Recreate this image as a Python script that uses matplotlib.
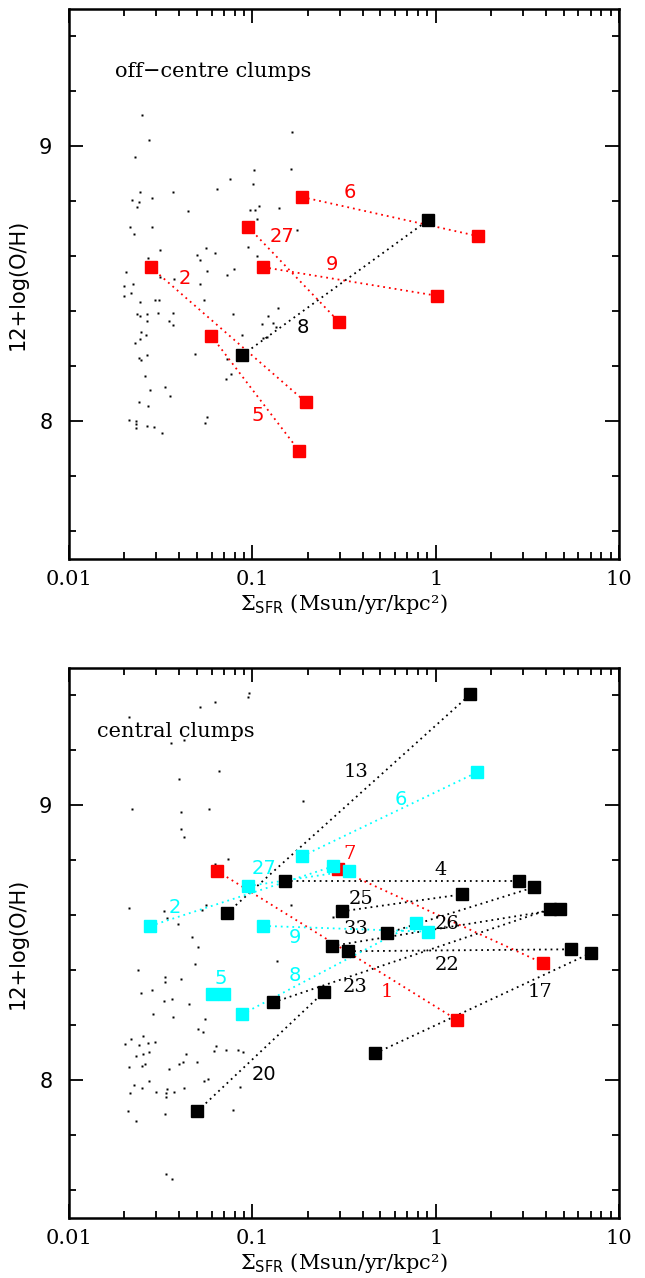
import numpy as np
import matplotlib
matplotlib.use("Agg")
import matplotlib.pyplot as plt
from matplotlib.ticker import LogLocator, NullFormatter, MultipleLocator

plt.rcParams['mathtext.fontset'] = 'dejavuserif'

RED = '#ff0000'
CYAN = '#00ffff'
BLACK = '#000000'

# ---------------- off-centre clumps (top panel) ----------------
top_names = ['6', '27', '9', '2', '5', '8']
top_sfr1 = [0.187, 0.095, 0.115, 0.0279, 0.0596, 0.088]
top_oh1 = [8.816, 8.707, 8.561, 8.561, 8.312, 8.241]
top_sfr2 = [1.70, 0.298, 1.02, 0.196, 0.180, 0.91]
top_oh2 = [8.674, 8.361, 8.457, 8.070, 7.893, 8.732]
top_cols = ['red', 'red', 'red', 'red', 'red', 'black']
top_lab_logx = [-0.471, -0.840, -0.567, -1.367, -0.971, -0.727]
top_lab_y = [8.831, 8.671, 8.572, 8.521, 8.022, 8.340]

# background points (log10 SFR density, 12+log(O/H))
top_dots_logx = [-1.600, -1.562, -1.642, -0.785, -0.791, -0.991, -1.120, -0.998, -1.191, -1.434,
                 -1.611, -1.547, -1.655, -1.620, -1.629, -1.351, -0.962, -1.013, -0.985, -0.855,
                 -0.975, -1.667, -1.645, -1.547, -0.755, -0.758, -1.504, -1.022, -1.254, -1.205,
                 -1.302, -1.285, -1.571, -0.975, -1.691, -1.247, -1.102, -1.140, -1.427, -1.698,
                 -1.653, -1.287, -1.702, -1.660, -1.504,
                 -1.615, -1.531, -1.509, -1.264, -1.627, -1.613, -1.573, -1.516, -1.433, -1.576,
                 -1.456, -1.431, -1.107, -0.916, -0.860, -0.949, -0.889, -0.871, -1.607, -1.580,
                 -1.056, -0.922, -0.940, -1.642, -1.613, -1.573, -1.617, -1.606, -1.313, -1.140,
                 -1.585, -1.145, -1.116, -1.558, -1.476, -1.451, -1.618, -1.571, -1.674, -1.635,
                 -1.633, -1.635, -1.573, -1.538, -1.494, -1.247, -1.260]
top_dots_oh = [9.115, 9.022, 8.960, 9.051, 8.919, 8.913, 8.881, 8.864, 8.845, 8.835,
               8.833, 8.813, 8.806, 8.798, 8.780, 8.767, 8.785, 8.769, 8.770, 8.777,
               8.737, 8.708, 8.683, 8.707, 8.831, 8.695, 8.625, 8.633, 8.629, 8.611,
               8.606, 8.588, 8.593, 8.603, 8.544, 8.548, 8.554, 8.532, 8.518, 8.493,
               8.500, 8.501, 8.456, 8.467, 8.524,
               8.435, 8.440, 8.440, 8.440, 8.391, 8.383, 8.389, 8.393, 8.396, 8.364,
               8.364, 8.352, 8.391, 8.385, 8.412, 8.355, 8.358, 8.345, 8.324, 8.316,
               8.315, 8.309, 8.303, 8.287, 8.300, 8.243, 8.232, 8.223, 8.247, 8.228,
               8.164, 8.155, 8.172, 8.113, 8.127, 8.091, 8.072, 8.057, 8.005, 8.003,
               7.992, 7.975, 7.983, 7.981, 7.958, 8.016, 7.995]

# ---------------- central clumps (bottom panel) ----------------
bot_names = ['13', '4', '25', '26', '33', '22', '23', '17', '20',
             '1', '7', '6', '2', '27', '9', '8', '5']
bot_sfr1 = [0.0729, 0.150, 0.308, 0.541, 0.271, 0.334, 0.130, 0.469, 0.0501,
            0.0641, 0.294, 0.1875, 0.0278, 0.095, 0.115, 0.088, 0.060]
bot_oh1 = [8.609, 8.727, 8.615, 8.535, 8.489, 8.470, 8.284, 8.099, 7.888,
           8.762, 8.768, 8.816, 8.562, 8.707, 8.562, 8.241, 8.315]
bot_sfr2 = [1.546, 2.85, 1.40, 3.45, 4.76, 5.5, 4.2, 7.0, 0.246,
            1.31, 3.87, 1.687, 0.277, 0.338, 0.912, 0.778, 0.070]
bot_oh2 = [9.404, 8.727, 8.677, 8.703, 8.623, 8.477, 8.623, 8.463, 8.322,
           8.220, 8.426, 9.121, 8.779, 8.762, 8.541, 8.572, 8.315]
bot_cols = ['black'] * 9 + ['red', 'red'] + ['cyan'] * 6
bot_lab_logx = [-0.435, 0.029, -0.407, 0.060, -0.435, 0.062, -0.440, 0.569, -0.936,
                -0.267, -0.467, -0.189, -1.422, -0.938, -0.767, -0.771, -1.171]
bot_lab_y = [9.123, 8.767, 8.659, 8.569, 8.552, 8.421, 8.340, 8.321, 8.020,
             8.320, 8.823, 9.023, 8.630, 8.769, 8.521, 8.380, 8.372]
bot_lab_serif = [True] * 8 + [False] + [True, True] + [False] * 6

bot_dots_logx = [-1.0165, -1.025, -1.204, -1.285, -1.673, -1.444, -1.373, -1.180, -1.398, -0.722,
                 -1.656, -1.236, -1.391, -1.391, -1.373, -1.133, -1.205, -1.671, -1.482, -1.253,
                 -1.276, -1.467, -1.405, -1.331, -1.298, -0.789, -0.558,
                 -1.314, -0.865, -1.625, -1.475, -1.475, -1.391, -1.609, -1.549, -1.482, -1.438,
                 -1.347, -1.542, -1.431, -1.258, -1.296, -1.271, -1.696, -1.660, -1.618, -1.598,
                 -1.571, -1.533, -1.200, -1.211, -1.145, -1.080, -1.053, -1.633, -1.596, -1.562,
                 -1.362, -1.402, -1.380, -1.674, -1.602, -1.584, -1.453, -1.303, -1.264, -1.243,
                 -1.647, -1.603, -1.564, -1.667, -1.525, -1.467, -1.471, -1.426, -1.374, -1.471,
                 -1.067, -1.680, -1.635, -1.476, -1.105, -1.473, -1.440]
bot_dots_oh = [9.408, 9.396, 9.375, 9.357, 9.323, 9.228, 9.238, 9.124, 9.096, 9.017,
               8.988, 8.986, 8.976, 8.913, 8.887, 8.805, 8.787, 8.626, 8.617, 8.638,
               8.619, 8.590, 8.569, 8.521, 8.487, 8.637, 8.596,
               8.425, 8.435, 8.401, 8.375, 8.358, 8.369, 8.317, 8.329, 8.288, 8.295,
               8.279, 8.242, 8.232, 8.223, 8.186, 8.177, 8.132, 8.150, 8.128, 8.162,
               8.135, 8.140, 8.125, 8.106, 8.111, 8.112, 8.104, 8.089, 8.096, 8.105,
               8.096, 8.060, 8.068, 8.048, 8.052, 8.060, 8.043, 8.068, 7.999, 8.007,
               7.983, 7.974, 7.997, 7.955, 7.959, 7.969, 7.956, 7.957, 7.972, 7.939,
               7.976, 7.889, 7.853, 7.878, 7.893, 7.660, 7.643]

colour_map = {'red': RED, 'cyan': CYAN, 'black': BLACK}


def setup_axes(ax):
    ax.set_xscale('log')
    ax.set_xlim(0.01, 10)
    ax.set_ylim(7.5, 9.5)
    ax.set_xticks([0.01, 0.1, 1, 10])
    ax.set_xticklabels(['0.01', '0.1', '1', '10'], family='DejaVu Serif', fontsize=15)
    ax.xaxis.set_minor_locator(LogLocator(base=10, subs=np.arange(2, 10)))
    ax.xaxis.set_minor_formatter(NullFormatter())
    ax.set_yticks([8, 9])
    ax.set_yticklabels(['8', '9'], family='DejaVu Sans', fontsize=15)
    ax.yaxis.set_minor_locator(MultipleLocator(0.2))
    ax.tick_params(which='both', direction='in', top=True, right=True, width=1.3)
    ax.tick_params(which='major', length=10)
    ax.tick_params(which='minor', length=5)
    ax.tick_params(axis='x', pad=8)
    ax.tick_params(axis='y', pad=12)
    for sp in ax.spines.values():
        sp.set_linewidth(1.8)
    ax.set_xlabel(r'$\Sigma_{\mathsf{SFR}}$ (Msun/yr/kpc²)', family='DejaVu Serif',
                  fontsize=15, labelpad=2)
    ax.set_ylabel('12+log(O/H)', family='DejaVu Sans', fontsize=15, labelpad=8)


def draw_pairs(ax, sfr1, oh1, sfr2, oh2, cols):
    for a, b, c, d, col in zip(sfr1, oh1, sfr2, oh2, cols):
        ax.plot([a, c], [b, d], color=colour_map[col], linestyle=(0, (1, 2.2)), lw=1.3, zorder=2)
    for a, b, c, d, col in zip(sfr1, oh1, sfr2, oh2, cols):
        ax.plot([a, c], [b, d], linestyle='none', marker='s', ms=8,
                mfc=colour_map[col], mec=colour_map[col], zorder=3)


fig = plt.figure(figsize=(6.45, 12.78), dpi=100)
ax1 = fig.add_axes([0.1070, 0.5626, 0.8527, 0.4304])
ax2 = fig.add_axes([0.1070, 0.04695, 0.8527, 0.4304])

# top panel
setup_axes(ax1)
ax1.plot(10 ** np.array(top_dots_logx), top_dots_oh, linestyle='none', marker='s', ms=1.5,
         mfc='black', mec='none', zorder=1)
draw_pairs(ax1, top_sfr1, top_oh1, top_sfr2, top_oh2, top_cols)
for name, lx, ly, col in zip(top_names, top_lab_logx, top_lab_y, top_cols):
    ax1.text(10 ** lx, ly, name, color=colour_map[col], fontsize=14, family='DejaVu Sans',
             ha='center', va='center', zorder=4)
ax1.text(0.0836, 0.886, 'off\u2212centre clumps', transform=ax1.transAxes, fontsize=15,
         family='DejaVu Serif', ha='left', va='center')

# bottom panel
setup_axes(ax2)
ax2.plot(10 ** np.array(bot_dots_logx), bot_dots_oh, linestyle='none', marker='s', ms=1.5,
         mfc='black', mec='none', zorder=1)
draw_pairs(ax2, bot_sfr1, bot_oh1, bot_sfr2, bot_oh2, bot_cols)
for name, lx, ly, col, serif in zip(bot_names, bot_lab_logx, bot_lab_y, bot_cols, bot_lab_serif):
    ax2.text(10 ** lx, ly, name, color=colour_map[col], fontsize=14,
             family='DejaVu Serif' if serif else 'DejaVu Sans',
             ha='center', va='center', zorder=4)
ax2.text(0.0515, 0.884, 'central clumps', transform=ax2.transAxes, fontsize=15,
         family='DejaVu Serif', ha='left', va='center')

fig.savefig('out.png', dpi=100)
